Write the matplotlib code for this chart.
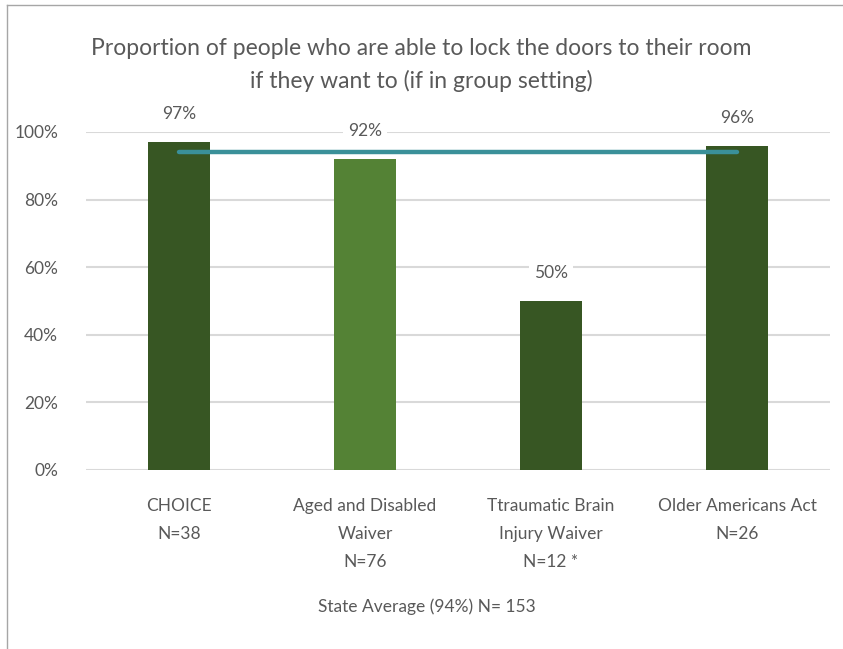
import matplotlib
matplotlib.use('Agg')
import matplotlib.pyplot as plt
from matplotlib.lines import Line2D

plt.rcParams['font.family'] = ['Lato', 'DejaVu Sans']

categories = ['CHOICE\nN=38', 'Aged and Disabled\nWaiver\nN=76',
              'Ttraumatic Brain\nInjury Waiver\nN=12 *', 'Older Americans Act\nN=26']
values = [0.97, 0.92, 0.50, 0.96]
value_labels = ['97%', '92%', '50%', '96%']
state_avg = 0.94
yticks = [0, 0.2, 0.4, 0.6, 0.8, 1.0]
ytick_labels = ['0%', '20%', '40%', '60%', '80%', '100%']

bar_colors = ['#375623', '#548235', '#375623', '#375623']
text_grey = '#595959'

fig = plt.figure(figsize=(8.43, 6.49), dpi=100)
ax = fig.add_axes([86/843, 1 - 470/649, (830 - 86)/843, (470 - 132)/649])

x = list(range(len(categories)))
ax.bar(x, values, width=0.333, color=bar_colors, zorder=2)
ax.plot(x, [state_avg]*len(x), color='#3A9099', linewidth=3.2, solid_capstyle='round', zorder=3)

for xi, v, lab in zip(x, values, value_labels):
    ax.annotate(lab, (xi, v), xytext=(0, 20), textcoords='offset points',
                ha='center', va='center', fontsize=12.5, color=text_grey,
                bbox=dict(boxstyle='square,pad=0.3', fc='white', ec='none'),
                annotation_clip=False, zorder=4)

ax.set_xlim(-0.5, 3.5)
ax.set_ylim(0, 1.0)
ax.set_yticks(yticks)
ax.set_yticklabels(ytick_labels, fontsize=12.5, color=text_grey)
ax.set_xticks(x)
ax.set_xticklabels(categories, fontsize=12.5, color=text_grey, linespacing=1.95)
ax.tick_params(axis='both', length=0)
ax.tick_params(axis='y', pad=20)
ax.tick_params(axis='x', pad=20)
ax.grid(axis='y', color='#D9D9D9', linewidth=1.5, zorder=0)
ax.set_axisbelow(True)
for s in ax.spines.values():
    s.set_visible(False)

fig.text(421/843, 1 - 65/649,
         'Proportion of people who are able to lock the doors to their room\nif they want to (if in group setting)',
         ha='center', va='center', fontsize=16.5, color=text_grey, linespacing=1.65)
fig.text(427/843, 1 - 607/649, 'State Average (94%) N= 153', ha='center', va='center',
         fontsize=12.5, color=text_grey)

# outer frame (left and top edges)
fig.add_artist(Line2D([7/843, 7/843], [0, 1 - 5/649], color='#A6A6A6', linewidth=1))
fig.add_artist(Line2D([7/843, 1], [1 - 5/649, 1 - 5/649], color='#A6A6A6', linewidth=1))

fig.savefig('out.png', dpi=100)
